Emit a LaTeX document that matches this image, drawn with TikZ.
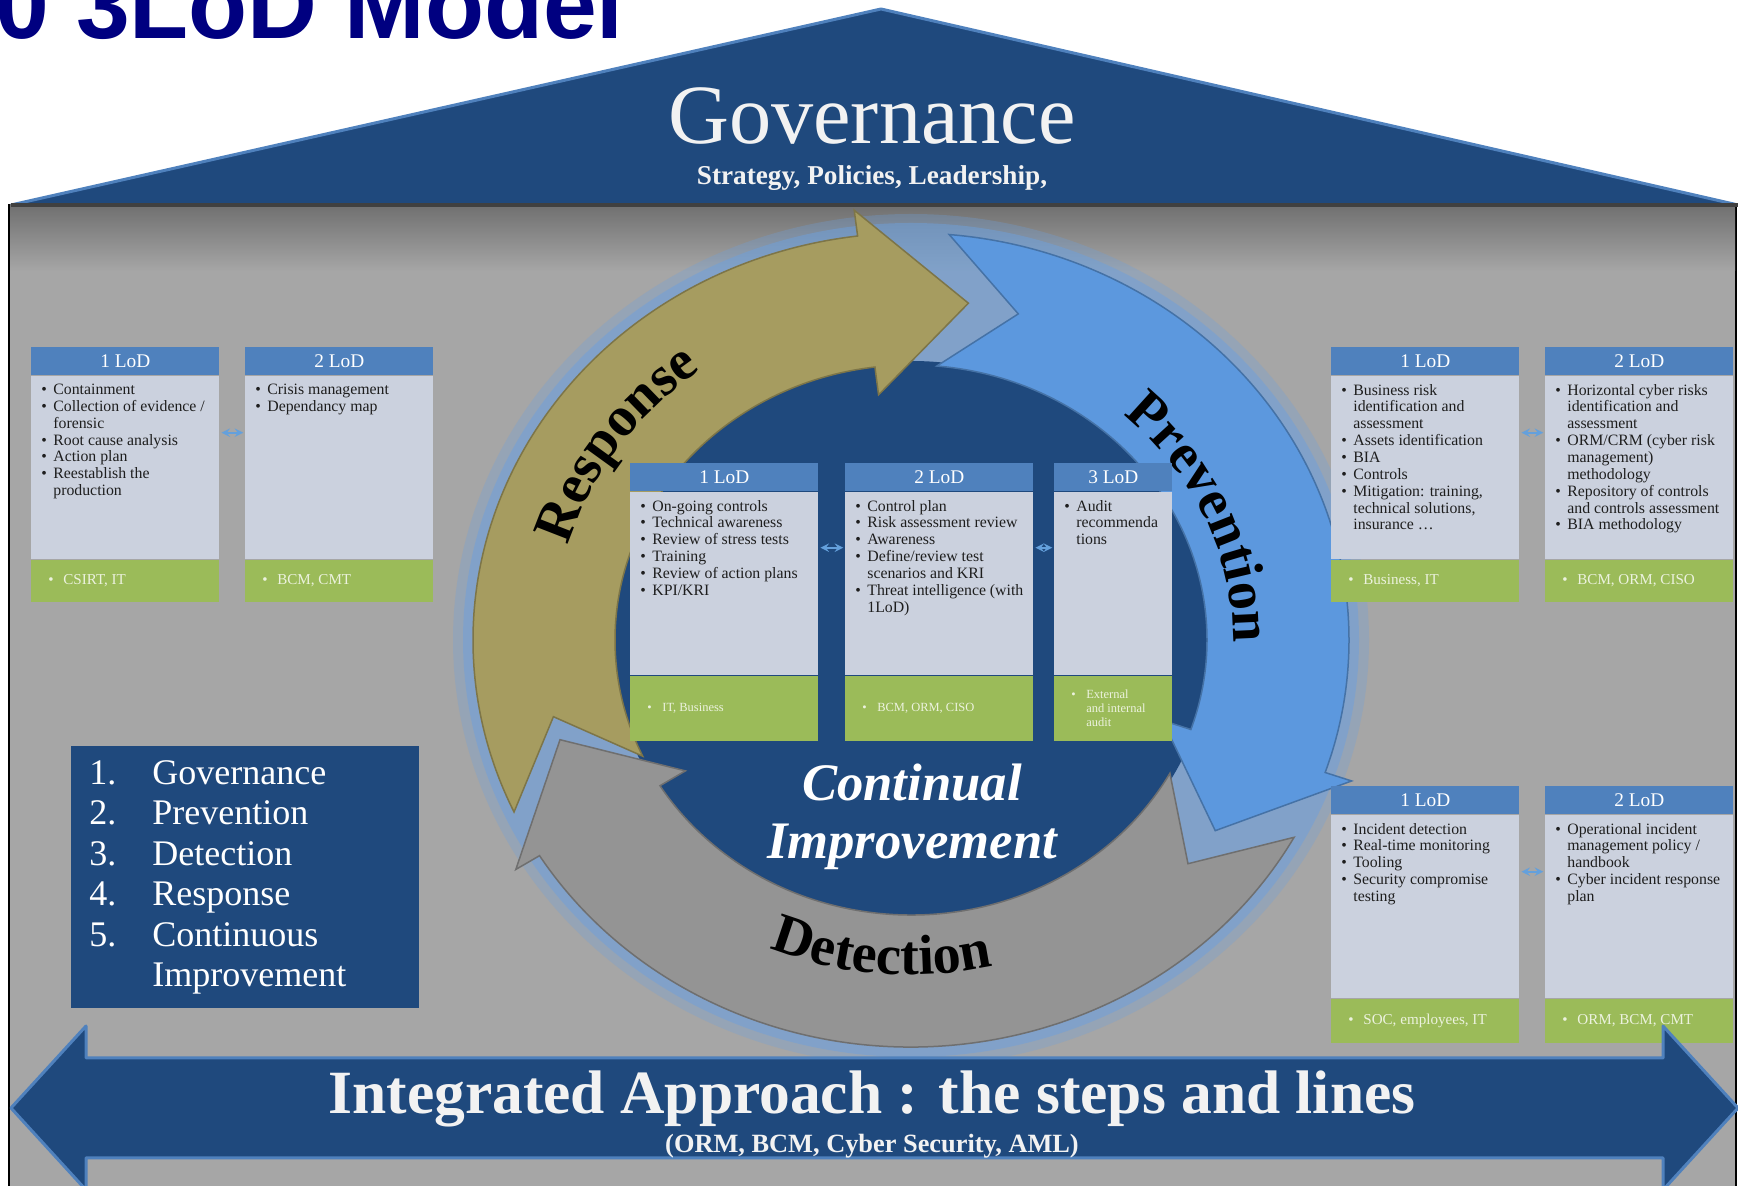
\documentclass[tikz,border=0pt]{standalone}
\usepackage{fontspec}
\setmainfont{Liberation Serif}
\newfontfamily\heros{Liberation Sans}
\usepackage{tikz}
\usetikzlibrary{positioning,decorations.text}

\definecolor{roofblue}{RGB}{31,73,125}
\definecolor{edgeblue}{RGB}{79,129,189}
\definecolor{panel}{RGB}{166,166,166}
\definecolor{topshade}{RGB}{112,112,112}
\definecolor{hdblue}{RGB}{79,129,189}
\definecolor{bodygray}{RGB}{203,209,222}
\definecolor{bodytext}{RGB}{30,30,30}
\definecolor{footgreen}{RGB}{155,187,89}
\definecolor{foottext}{RGB}{236,242,222}
\definecolor{navytitle}{RGB}{0,0,128}
\definecolor{respgold}{RGB}{166,156,96}
\definecolor{prevblue}{RGB}{92,152,222}
\definecolor{detgray}{RGB}{148,148,148}
\definecolor{glowblue}{RGB}{110,160,220}
\definecolor{linkblue}{RGB}{100,160,220}

% bullet lines for the boxes
\newcommand{\itm}{\par\let\\\newline\hangindent=0.24cm\hangafter=1\noindent\makebox[0.24cm][l]{\textbullet}}
\newcommand{\ftm}{\par\let\\\newline\hangindent=0.3cm\hangafter=1\noindent\makebox[0.3cm][l]{\textbullet}}
\newcommand{\lodlist}[2]{\parbox[c][3.34cm][t]{#1}{\raggedright#2}}
\newcommand{\footlist}[2]{\parbox{#1}{\raggedright#2}}

\begin{document}
\begin{tikzpicture}[
    x=0.02cm, y=0.02cm,
    lodhead/.style={rectangle, fill=hdblue, text=white, minimum width=3.76cm, minimum height=0.56cm, inner sep=0pt, font=\fontsize{11}{12}\selectfont},
    lodbody/.style={rectangle, fill=bodygray, text=bodytext, inner xsep=0.2cm, inner ysep=0.16cm, font=\fontsize{9}{9.6}\selectfont},
    lodfoot/.style={rectangle, fill=footgreen, text=foottext, inner xsep=0.34cm, inner ysep=0pt, minimum height=0.84cm, font=\fontsize{8.6}{9.5}\selectfont},
    link/.style={<->, >=stealth, linkblue, line width=0.04cm, shorten <=1pt, shorten >=1pt},
    legend/.style={rectangle, fill=roofblue, text=white, anchor=north west, minimum width=6.96cm, minimum height=5.24cm, inner xsep=0.36cm, text width=6.24cm, align=left, font=\fontsize{20.5}{23}\selectfont}
]
    \useasboundingbox (0,0) rectangle (1738,1186);
    \clip (0,0) rectangle (1738,1186);
    \fill[white] (0,0) rectangle (1738,1186);

    % house body
    \fill[panel, draw=black, line width=0.04cm] (9,-5) rectangle (1736,981);
    \shade[top color=topshade, bottom color=panel] (10,981) rectangle (1735,915);

    % cycle
    \begin{scope}[shift={(911,546)}]
        \fill[glowblue, opacity=0.3] (0,0) ellipse [x radius=458, y radius=426];
        \fill[glowblue, opacity=0.5] (0,0) ellipse [x radius=448, y radius=417];
        \fill[roofblue] (0,0) ellipse [x radius=300, y radius=279];

        \fill[respgold, draw=respgold!75!black, line width=0.03cm] (205:438 and 407) arc[start angle=205, end angle=97, x radius=438, y radius=407]
            -- (97:466 and 433) -- (81:367 and 341) -- (97:266 and 247) -- (97:296 and 275)
            arc[start angle=97, end angle=205, x radius=296, y radius=275] -- (193:367 and 341) -- cycle;
        \fill[prevblue, draw=prevblue!75!black, line width=0.03cm] (85:438 and 407) arc[start angle=85, end angle=-19, x radius=438, y radius=407]
            -- (-19:466 and 433) -- (-34:367 and 341) -- (-19:266 and 247) -- (-19:296 and 275)
            arc[start angle=-19, end angle=85, x radius=296, y radius=275] -- (73:367 and 341) -- cycle;
        \fill[detgray, draw=detgray!75!black, line width=0.03cm] (-29:438 and 407) arc[start angle=-29, end angle=-148, x radius=438, y radius=407]
            -- (-148:466 and 433) -- (-163:367 and 341) -- (-148:266 and 247) -- (-148:296 and 275)
            arc[start angle=-148, end angle=-29, x radius=296, y radius=275] -- (-41:367 and 341) -- cycle;

        \path[decorate, decoration={text along path, text align=center, text={|\bfseries\fontsize{32}{32}\selectfont|Response}}]
            (175:358 and 333) arc[start angle=175, end angle=115, x radius=358, y radius=333];
        \path[decorate, decoration={text along path, text align=center, text={|\bfseries\fontsize{32}{32}\selectfont|Prevention}}]
            (54:322 and 299) arc[start angle=54, end angle=-6, x radius=322, y radius=299];
        \path[decorate, decoration={text along path, text align=center, text={|\bfseries\fontsize{32}{32}\selectfont|Detection}}]
            (235:360 and 335) arc[start angle=235, end angle=295, x radius=360, y radius=335];
    \end{scope}

    \node[anchor=base, text=white, font=\bfseries\itshape\fontsize{30}{33}\selectfont] (cont) at (912,385) {Continual};
    \node[anchor=base, text=white, font=\bfseries\itshape\fontsize{30}{33}\selectfont] (impr) at (912,327) {Improvement};

    % roof
    \fill[roofblue] (11,981) -- (881,1177) -- (1738,981) -- cycle;
    \draw[edgeblue, line width=0.06cm, line join=round] (11,981) -- (881,1177) -- (1738,981);
    \draw[black!75, line width=0.08cm] (11,981) -- (1738,981);

    \node[anchor=base east, text=navytitle, font=\heros\bfseries\fontsize{55}{60}\selectfont] (title) at (630,1147) {2.0 3LoD Model};
    \node[anchor=base, text=white!95!black, font=\fontsize{48}{50}\selectfont] (gov) at (872,1042) {Governance};
    \node[anchor=base, text=white!95!black, font=\bfseries\fontsize{15.5}{17}\selectfont] (govsub) at (872,1001) {Strategy, Policies, Leadership,};

    % left boxes
    \node[lodhead, anchor=north west] (resp1) at (31,839) {1 LoD};
    \node[lodbody, below=0pt of resp1] (resp1body) {\lodlist{3.36cm}{\itm Containment \itm Collection of evidence /\\forensic \itm Root cause analysis \itm Action plan \itm Reestablish the\\production}};
    \node[lodfoot, below=0pt of resp1body] (resp1foot) {\footlist{3.08cm}{\ftm CSIRT, IT}};

    \node[lodhead, anchor=north west] (resp2) at (245,839) {2 LoD};
    \node[lodbody, below=0pt of resp2] (resp2body) {\lodlist{3.36cm}{\itm Crisis management \itm Dependancy map}};
    \node[lodfoot, below=0pt of resp2body] (resp2foot) {\footlist{3.08cm}{\ftm BCM, CMT}};

    \draw[link] ([yshift=-1.14cm]resp1body.north east) -- ([yshift=-1.14cm]resp2body.north west);

    % centre boxes
    \node[lodhead, anchor=north west] (cont1) at (630,723) {1 LoD};
    \node[lodbody, below=0pt of cont1] (cont1body) {\lodlist{3.36cm}{\itm On-going controls \itm Technical awareness \itm Review of stress tests \itm Training \itm Review of action plans \itm KPI/KRI}};
    \node[lodfoot, below=0pt of cont1body, minimum height=1.3cm, font=\fontsize{7.1}{7.8}\selectfont] (cont1foot) {\footlist{3.08cm}{\ftm IT, Business}};

    \node[lodhead, anchor=north west] (cont2) at (845,723) {2 LoD};
    \node[lodbody, below=0pt of cont2] (cont2body) {\lodlist{3.36cm}{\itm Control plan \itm Risk assessment review \itm Awareness \itm Define/review test\\scenarios and KRI \itm Threat intelligence (with\\1LoD)}};
    \node[lodfoot, below=0pt of cont2body, minimum height=1.3cm, font=\fontsize{7.1}{7.8}\selectfont] (cont2foot) {\footlist{3.08cm}{\ftm BCM, ORM, CISO}};

    \node[lodhead, anchor=north west, minimum width=2.36cm] (cont3) at (1054,723) {3 LoD};
    \node[lodbody, below=0pt of cont3] (cont3body) {\lodlist{1.96cm}{\itm Audit\\recommenda\\tions}};
    \node[lodfoot, below=0pt of cont3body, minimum height=1.3cm, font=\fontsize{7.1}{7.8}\selectfont] (cont3foot) {\footlist{1.68cm}{\ftm External\\and internal\\audit}};

    \draw[link] ([yshift=-1.12cm]cont1body.north east) -- ([yshift=-1.12cm]cont2body.north west);
    \draw[link] ([yshift=-1.12cm]cont2body.north east) -- ([yshift=-1.12cm]cont3body.north west);

    % right boxes, top
    \node[lodhead, anchor=north west] (prev1) at (1331,839) {1 LoD};
    \node[lodbody, below=0pt of prev1] (prev1body) {\lodlist{3.36cm}{\itm Business risk\\identification and\\assessment \itm Assets identification \itm BIA \itm Controls \itm Mitigation: training,\\technical solutions,\\insurance \ldots}};
    \node[lodfoot, below=0pt of prev1body] (prev1foot) {\footlist{3.08cm}{\ftm Business, IT}};

    \node[lodhead, anchor=north west] (prev2) at (1545,839) {2 LoD};
    \node[lodbody, below=0pt of prev2] (prev2body) {\lodlist{3.36cm}{\itm Horizontal cyber risks\\identification and\\assessment \itm ORM/CRM (cyber risk\\management)\\methodology \itm Repository of controls\\and controls assessment \itm BIA methodology}};
    \node[lodfoot, below=0pt of prev2body] (prev2foot) {\footlist{3.08cm}{\ftm BCM, ORM, CISO}};

    \draw[link] ([yshift=-1.14cm]prev1body.north east) -- ([yshift=-1.14cm]prev2body.north west);

    % right boxes, bottom
    \node[lodhead, anchor=north west] (det1) at (1331,400) {1 LoD};
    \node[lodbody, below=0pt of det1] (det1body) {\lodlist{3.36cm}{\itm Incident detection \itm Real-time monitoring \itm Tooling \itm Security compromise\\testing}};
    \node[lodfoot, below=0pt of det1body, minimum height=0.88cm] (det1foot) {\footlist{3.08cm}{\ftm SOC, employees, IT}};

    \node[lodhead, anchor=north west] (det2) at (1545,400) {2 LoD};
    \node[lodbody, below=0pt of det2] (det2body) {\lodlist{3.36cm}{\itm Operational incident\\management policy /\\handbook \itm Cyber incident response\\plan}};
    \node[lodfoot, below=0pt of det2body, minimum height=0.88cm] (det2foot) {\footlist{3.08cm}{\ftm ORM, BCM, CMT}};

    \draw[link] ([yshift=-1.14cm]det1body.north east) -- ([yshift=-1.14cm]det2body.north west);

    % legend
    \node[legend] (legend) at (71,440) {\begin{tabular}{@{}p{1.26cm}@{}l@{}}
        1. & Governance\\ 2. & Prevention\\ 3. & Detection\\ 4. & Response\\ 5. & Continuous\\ & Improvement
    \end{tabular}};

    % bottom double arrow
    \fill[roofblue, draw=edgeblue, line width=0.06cm, line join=round] (11,78) -- (86,160) -- (86,128) -- (1663,128) -- (1663,160) -- (1738,78)
        -- (1663,-4) -- (1663,28) -- (86,28) -- (86,-4) -- cycle;
    \node[anchor=base, text=white!95!black, font=\bfseries\fontsize{35}{40}\selectfont] (integ) at (872,72) {Integrated Approach : the steps and lines};
    \node[anchor=base, text=white!95!black, font=\bfseries\fontsize{15}{17}\selectfont] (integsub) at (872,33) {(ORM, BCM, Cyber Security, AML)};
\end{tikzpicture}
\end{document}
